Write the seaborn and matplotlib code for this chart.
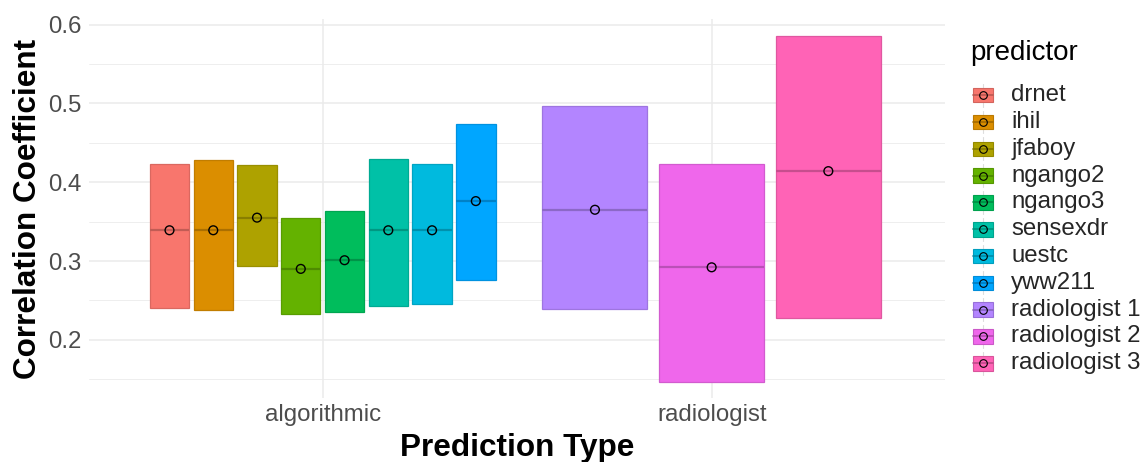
import numpy as np
import pandas as pd
import matplotlib
matplotlib.use("Agg")
import matplotlib.pyplot as plt
import matplotlib.colors as mcolors
from matplotlib.legend_handler import HandlerBase
from matplotlib.patches import Rectangle
from matplotlib.lines import Line2D
import seaborn as sns

# ---- data -------------------------------------------------------------
predictors = ["drnet", "ihil", "jfaboy", "ngango2", "ngango3", "sensexdr",
              "uestc", "yww211", "radiologist 1", "radiologist 2", "radiologist 3"]
pred_type = ["algorithmic"] * 8 + ["radiologist"] * 3
estimate = [0.339, 0.339, 0.355, 0.290, 0.301, 0.339, 0.339, 0.376,
            0.365, 0.292, 0.414]
ci_low = [0.241, 0.238, 0.294, 0.233, 0.235, 0.243, 0.245, 0.276,
          0.239, 0.147, 0.228]
ci_high = [0.423, 0.428, 0.422, 0.354, 0.364, 0.430, 0.423, 0.474,
           0.497, 0.423, 0.585]
type_levels = ["algorithmic", "radiologist"]
palette = ["#F8766D", "#DB8E00", "#AEA200", "#64B200", "#00BD5C", "#00C1A7",
           "#00BADE", "#00A6FF", "#B385FF", "#EF67EB", "#FF63B6"]

df = pd.DataFrame({"predictor": predictors, "type": pred_type,
                   "estimate": estimate, "low": ci_low, "high": ci_high})

# dodge positions inside each prediction type (dodge width 0.9, box width 0.9 of slot)
dodge = 0.9
xs, widths = [], []
for t, grp in df.groupby("type", sort=False):
    n = len(grp)
    slot = dodge / n
    base = type_levels.index(t)
    for i in range(n):
        xs.append(base - dodge / 2 + slot * (i + 0.5))
        widths.append(slot * 0.9)
df["x"] = xs
df["w"] = widths


def shade(c, f):
    r, g, b = mcolors.to_rgb(c)
    return (r * f, g * f, b * f)


sns.set_theme(style="whitegrid")
plt.rcParams["font.family"] = ["Liberation Sans", "DejaVu Sans"]

fig = plt.figure(figsize=(11.43, 4.62), dpi=100)
ax = fig.add_axes([0.0781, 0.1385, 0.7487, 0.8204])

# crossbars
for (_, r), col in zip(df.iterrows(), palette):
    ax.bar(r["x"], r["high"] - r["low"], bottom=r["low"], width=r["w"],
           color=col, edgecolor=shade(col, 0.88), linewidth=0.9, zorder=2)
    ax.hlines(r["estimate"], r["x"] - r["w"] / 2, r["x"] + r["w"] / 2,
              color=shade(col, 0.78), linewidth=1.6, zorder=3)

# point estimates
sns.scatterplot(data=df, x="x", y="estimate", ax=ax, marker="o", s=40,
                facecolor="none", edgecolor="black", linewidth=1.0,
                zorder=4, legend=False)

ax.set_xlim(-0.6, 1.6)
ax.set_ylim(0.1262, 0.6070)
ax.set_xticks([0, 1])
ax.set_xticklabels(type_levels)
ax.set_yticks([0.2, 0.3, 0.4, 0.5, 0.6])
ax.set_yticks([0.15, 0.25, 0.35, 0.45, 0.55], minor=True)
ax.grid(which="major", color="#EBEBEB", linewidth=1.1, zorder=0)
ax.grid(which="minor", axis="y", color="#EBEBEB", linewidth=0.6, zorder=0)
ax.set_axisbelow(True)
for s in ax.spines.values():
    s.set_visible(False)
ax.tick_params(axis="both", which="both", length=0, labelsize=17.3,
               labelcolor="#4D4D4D")
ax.tick_params(axis="y", pad=5.5)
ax.tick_params(axis="x", pad=4)
ax.set_xlabel("Prediction Type", fontsize=22.7, fontweight="bold",
              color="black", labelpad=5)
ax.set_ylabel("Correlation Coefficient", fontsize=22.7, fontweight="bold",
              color="black", labelpad=4)


class CrossbarKey(HandlerBase):
    def __init__(self, color):
        super().__init__()
        self.color = color

    def create_artists(self, legend, orig_handle, xd, yd, w, h, fs, trans):
        vline = Line2D([xd + w / 2, xd + w / 2], [yd - 3, yd + h + 3],
                       color="#DDDDDD", linewidth=0.8, transform=trans)
        rect = Rectangle((xd, yd), w, h, facecolor=self.color,
                         edgecolor=shade(self.color, 0.85), linewidth=0.8,
                         transform=trans)
        mid = Line2D([xd, xd + w], [yd + h / 2] * 2,
                     color=shade(self.color, 0.75), linewidth=1.2,
                     transform=trans)
        pt = Line2D([xd + w / 2], [yd + h / 2], marker="o", markersize=5.5,
                    markerfacecolor="none", markeredgecolor="black",
                    markeredgewidth=0.8, linestyle="none", transform=trans)
        return [vline, rect, mid, pt]


handles = [Rectangle((0, 0), 1, 1) for _ in predictors]
handler_map = {h: CrossbarKey(c) for h, c in zip(handles, palette)}
leg = fig.legend(handles, predictors, handler_map=handler_map,
                 loc="upper left", bbox_to_anchor=(0.8405, 0.8437),
                 frameon=False, fontsize=17.3, handlelength=0.86,
                 handleheight=0.55, handletextpad=0.74, labelspacing=0.2,
                 borderpad=0)
fig.text(0.8486, 1 - 53 / 462, "predictor", fontsize=20, color="black",
         ha="left", va="center")

fig.savefig("out.png", dpi=100, facecolor="white")
